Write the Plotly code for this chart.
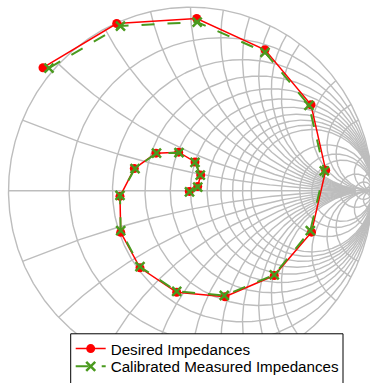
import numpy as np
import plotly.graph_objects as go

# Reflection coefficients (real, imaginary) of the impedance sweep
desired_re = [-0.8104, -0.4055, 0.0341, 0.4093, 0.6621, 0.7429, 0.6648, 0.4604, 0.1896, -0.0758,
              -0.2775, -0.3835, -0.3874, -0.3088, -0.1896, -0.0648, 0.0247, 0.0560, 0.0396, -0.0066]
desired_im = [0.6701, 0.9107, 0.9385, 0.7679, 0.4684, 0.1123, -0.2257, -0.4620, -0.5775, -0.5529,
              -0.4198, -0.2267, -0.0305, 0.1209, 0.2048, 0.2102, 0.1567, 0.0856, 0.0230, -0.0037]

measured_re = [-0.7775, -0.3846, 0.0368, 0.4093, 0.6511, 0.7352, 0.6582, 0.4604, 0.1857, -0.0758,
               -0.2775, -0.3835, -0.3874, -0.3049, -0.1868, -0.0632, 0.0247, 0.0538, 0.0396, -0.0055]
measured_im = [0.6684, 0.8973, 0.9187, 0.7540, 0.4652, 0.1086, -0.2176, -0.4583, -0.5706, -0.5476,
               -0.4139, -0.2176, -0.0251, 0.1209, 0.2048, 0.2075, 0.1540, 0.0845, 0.0203, -0.0064]

# Smith chart grid: circle value and the extent to which each circle/arc is drawn
grid_values = [0.2, 0.4, 0.6, 0.8, 1.0, 1.2, 1.4, 1.6, 1.8, 2.0, 3.0, 4.0, 5.0, 10.0, 20.0, 50.0]
grid_limits = [20, 20, 20, 20, 20, 20, 20, 20, 20, 20, 50, 50, 50, np.inf, np.inf, np.inf]


def gamma(z):
    return (z - 1) / (z + 1)


def sweep(lim, n=500):
    """Parameter values from 0 up to lim (lim may be infinite)."""
    t = np.linspace(0, 1, n)
    if np.isinf(lim):
        t = t[:-1]
        return np.append(t / (1 - t), 1e9)
    return lim * t ** 2


gx, gy = [], []


def add(points):
    gx.extend(points.real.tolist() + [None])
    gy.extend(points.imag.tolist() + [None])


# outer circle (r = 0) and real axis
th = np.linspace(0, 2 * np.pi, 720)
add(np.exp(1j * th))
add(np.array([-1 + 0j, 1 + 0j]))

for v, lim in zip(grid_values, grid_limits):
    s = sweep(lim)
    # constant resistance circle, reactance from -lim to +lim
    xs = np.concatenate([-s[::-1], s[1:]])
    add(gamma(v + 1j * xs))
    # constant reactance arcs, resistance from 0 to lim
    add(gamma(s + 1j * v))
    add(gamma(s - 1j * v))

green = "#4a9a1e"
fig = go.Figure()
fig.add_trace(go.Scatter(x=gx, y=gy, mode="lines", line=dict(color="#bdbdbd", width=1.4),
                         hoverinfo="skip", showlegend=False))
fig.add_trace(go.Scatter(x=desired_re, y=desired_im, mode="lines+markers", name="Desired Impedances",
                         line=dict(color="#ff0000", width=1.5),
                         marker=dict(symbol="circle", size=9, color="#ff0000"),
                         legend="legend"))
fig.add_trace(go.Scatter(x=measured_re, y=measured_im, mode="lines+markers",
                         name="Calibrated Measured Impedances",
                         line=dict(color=green, width=2, dash="13px,13px"),
                         marker=dict(symbol="x-thin", size=9, color=green,
                                     line=dict(color=green, width=2.5)),
                         legend="legend2"))

W, H = 370, 383
box_left, box_right, box_top = 70.7, 343.0, 340.0
row_centers = [355.2, 373.2]

legend_style = dict(xanchor="left", yanchor="middle", bgcolor="rgba(0,0,0,0)", borderwidth=0,
                    itemwidth=30, font=dict(family="Liberation Sans, Arial, sans-serif",
                                            size=15.2, color="black"))

fig.update_xaxes(range=[-1.0467, 0.9863], visible=False, fixedrange=True)
fig.update_yaxes(range=[-1.0091, 1.0390], visible=False, fixedrange=True)
fig.update_layout(
    width=W, height=H,
    margin=dict(l=0, r=0, t=0, b=0),
    paper_bgcolor="white", plot_bgcolor="white",
    font=dict(family="Liberation Sans, Arial, sans-serif", size=15, color="black"),
    legend=dict(x=box_left / W, y=1 - row_centers[0] / H, **legend_style),
    legend2=dict(x=box_left / W, y=1 - row_centers[1] / H, **legend_style),
    shapes=[dict(type="rect", xref="paper", yref="paper", layer="above",
                 x0=box_left / W, x1=box_right / W, y0=-0.2, y1=1 - box_top / H,
                 fillcolor="white", line=dict(color="black", width=1))],
)
fig.write_html("out.html")
